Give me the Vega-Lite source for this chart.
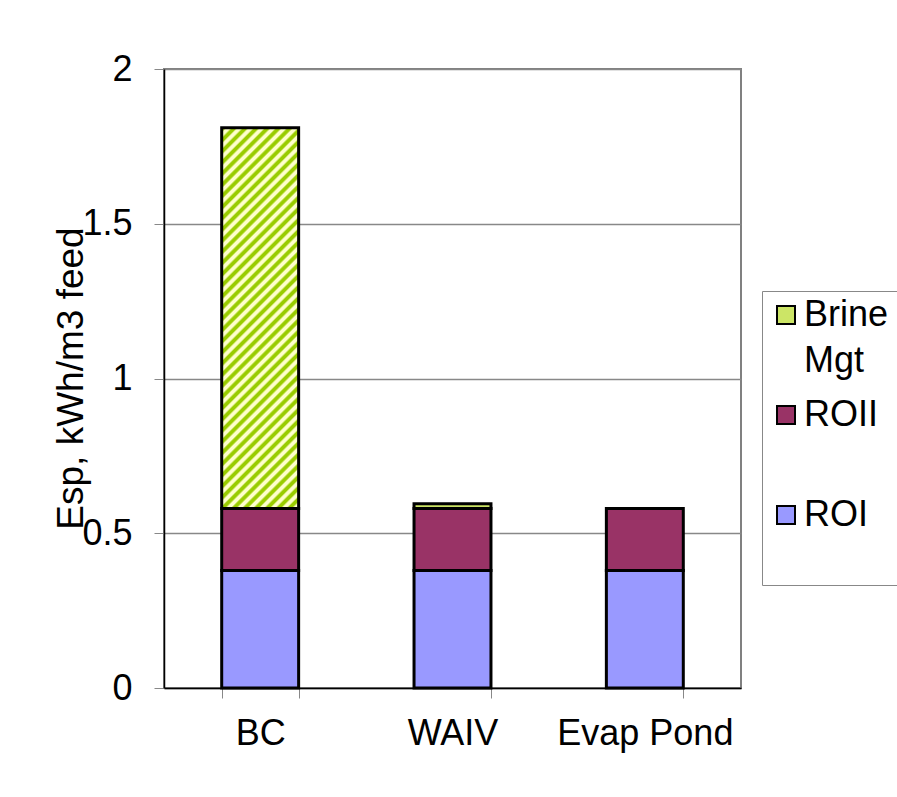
{
  "$schema": "https://vega.github.io/schema/vega-lite/v6.json",
  "width": 577,
  "height": 619,
  "autosize": {"type": "none"},
  "padding": {"left": 164, "top": 69, "right": 156, "bottom": 109},
  "background": "white",
  "config": {
    "font": "Liberation Sans",
    "view": {"stroke": "#808080", "strokeWidth": 2},
    "style": {"guide-label": {"lineHeight": 46}}
  },
  "data": {
    "values": [
      {"plant": "BC", "series": "ROI", "ord": 1, "value": 0.38},
      {"plant": "BC", "series": "ROII", "ord": 2, "value": 0.2},
      {"plant": "BC", "series": "Brine Mgt", "ord": 3, "value": 1.23},
      {"plant": "WAIV", "series": "ROI", "ord": 1, "value": 0.38},
      {"plant": "WAIV", "series": "ROII", "ord": 2, "value": 0.2},
      {"plant": "WAIV", "series": "Brine Mgt", "ord": 3, "value": 0.015},
      {"plant": "Evap Pond", "series": "ROI", "ord": 1, "value": 0.38},
      {"plant": "Evap Pond", "series": "ROII", "ord": 2, "value": 0.2},
      {"plant": "Evap Pond", "series": "Brine Mgt", "ord": 3, "value": 0}
    ]
  },
  "mark": {"type": "bar", "stroke": "black", "strokeWidth": 3},
  "encoding": {
    "x": {
      "field": "plant",
      "type": "nominal",
      "sort": ["BC", "WAIV", "Evap Pond"],
      "scale": {"paddingInner": 0.6, "paddingOuter": 0.3},
      "axis": {
        "title": null,
        "labelAngle": 0,
        "labelFontSize": 36,
        "labelColor": "black",
        "labelPadding": 18,
        "domainColor": "black",
        "domainWidth": 1.5,
        "tickColor": "#888888",
        "tickSize": 10,
        "tickWidth": 1,
        "tickBand": "extent",
        "grid": false
      }
    },
    "y": {
      "field": "value",
      "type": "quantitative",
      "stack": "zero",
      "scale": {"domain": [0, 2], "nice": false},
      "axis": {
        "values": [0, 0.5, 1, 1.5, 2],
        "format": "~g",
        "title": "Esp, kWh/m3 feed",
        "titleFontSize": 37,
        "titleFontWeight": "normal",
        "titleColor": "black",
        "titleX": -82,
        "titleY": 309,
        "titleAngle": -90,
        "titleAlign": "center",
        "titleBaseline": "alphabetic",
        "labelFontSize": 36,
        "labelColor": "black",
        "labelPadding": 22,
        "labelFlush": false,
        "domainColor": "black",
        "domainWidth": 1.5,
        "tickColor": "#888888",
        "tickSize": 10,
        "tickWidth": 1,
        "gridColor": "#888888",
        "gridWidth": 1.5
      }
    },
    "color": {
      "condition": {
        "test": "datum.series === 'Brine Mgt' && datum.plant === 'BC'",
        "value": {
          "gradient": "linear",
          "x1": 0, "y1": 0, "x2": 0.2341, "y2": 1.1552,
          "stops": [
            {"offset": 0, "color": "#99cc00"}, {"offset": 0.00732, "color": "#99cc00"}, {"offset": 0.0122, "color": "#ffffcc"}, {"offset": 0.01951, "color": "#ffffcc"},
            {"offset": 0.02439, "color": "#99cc00"}, {"offset": 0.03171, "color": "#99cc00"}, {"offset": 0.03659, "color": "#ffffcc"}, {"offset": 0.0439, "color": "#ffffcc"},
            {"offset": 0.04878, "color": "#99cc00"}, {"offset": 0.0561, "color": "#99cc00"}, {"offset": 0.06098, "color": "#ffffcc"}, {"offset": 0.06829, "color": "#ffffcc"},
            {"offset": 0.07317, "color": "#99cc00"}, {"offset": 0.08049, "color": "#99cc00"}, {"offset": 0.08537, "color": "#ffffcc"}, {"offset": 0.09268, "color": "#ffffcc"},
            {"offset": 0.09756, "color": "#99cc00"}, {"offset": 0.10488, "color": "#99cc00"}, {"offset": 0.10976, "color": "#ffffcc"}, {"offset": 0.11707, "color": "#ffffcc"},
            {"offset": 0.12195, "color": "#99cc00"}, {"offset": 0.12927, "color": "#99cc00"}, {"offset": 0.13415, "color": "#ffffcc"}, {"offset": 0.14146, "color": "#ffffcc"},
            {"offset": 0.14634, "color": "#99cc00"}, {"offset": 0.15366, "color": "#99cc00"}, {"offset": 0.15854, "color": "#ffffcc"}, {"offset": 0.16585, "color": "#ffffcc"},
            {"offset": 0.17073, "color": "#99cc00"}, {"offset": 0.17805, "color": "#99cc00"}, {"offset": 0.18293, "color": "#ffffcc"}, {"offset": 0.19024, "color": "#ffffcc"},
            {"offset": 0.19512, "color": "#99cc00"}, {"offset": 0.20244, "color": "#99cc00"}, {"offset": 0.20732, "color": "#ffffcc"}, {"offset": 0.21463, "color": "#ffffcc"},
            {"offset": 0.21951, "color": "#99cc00"}, {"offset": 0.22683, "color": "#99cc00"}, {"offset": 0.23171, "color": "#ffffcc"}, {"offset": 0.23902, "color": "#ffffcc"},
            {"offset": 0.2439, "color": "#99cc00"}, {"offset": 0.25122, "color": "#99cc00"}, {"offset": 0.2561, "color": "#ffffcc"}, {"offset": 0.26341, "color": "#ffffcc"},
            {"offset": 0.26829, "color": "#99cc00"}, {"offset": 0.27561, "color": "#99cc00"}, {"offset": 0.28049, "color": "#ffffcc"}, {"offset": 0.2878, "color": "#ffffcc"},
            {"offset": 0.29268, "color": "#99cc00"}, {"offset": 0.3, "color": "#99cc00"}, {"offset": 0.30488, "color": "#ffffcc"}, {"offset": 0.31219, "color": "#ffffcc"},
            {"offset": 0.31707, "color": "#99cc00"}, {"offset": 0.32439, "color": "#99cc00"}, {"offset": 0.32927, "color": "#ffffcc"}, {"offset": 0.33658, "color": "#ffffcc"},
            {"offset": 0.34146, "color": "#99cc00"}, {"offset": 0.34878, "color": "#99cc00"}, {"offset": 0.35366, "color": "#ffffcc"}, {"offset": 0.36097, "color": "#ffffcc"},
            {"offset": 0.36585, "color": "#99cc00"}, {"offset": 0.37317, "color": "#99cc00"}, {"offset": 0.37805, "color": "#ffffcc"}, {"offset": 0.38536, "color": "#ffffcc"},
            {"offset": 0.39024, "color": "#99cc00"}, {"offset": 0.39756, "color": "#99cc00"}, {"offset": 0.40244, "color": "#ffffcc"}, {"offset": 0.40975, "color": "#ffffcc"},
            {"offset": 0.41463, "color": "#99cc00"}, {"offset": 0.42195, "color": "#99cc00"}, {"offset": 0.42683, "color": "#ffffcc"}, {"offset": 0.43414, "color": "#ffffcc"},
            {"offset": 0.43902, "color": "#99cc00"}, {"offset": 0.44634, "color": "#99cc00"}, {"offset": 0.45122, "color": "#ffffcc"}, {"offset": 0.45853, "color": "#ffffcc"},
            {"offset": 0.46341, "color": "#99cc00"}, {"offset": 0.47073, "color": "#99cc00"}, {"offset": 0.47561, "color": "#ffffcc"}, {"offset": 0.48292, "color": "#ffffcc"},
            {"offset": 0.4878, "color": "#99cc00"}, {"offset": 0.49512, "color": "#99cc00"}, {"offset": 0.5, "color": "#ffffcc"}, {"offset": 0.50731, "color": "#ffffcc"},
            {"offset": 0.5122, "color": "#99cc00"}, {"offset": 0.51952, "color": "#99cc00"}, {"offset": 0.5244, "color": "#ffffcc"}, {"offset": 0.53171, "color": "#ffffcc"},
            {"offset": 0.53659, "color": "#99cc00"}, {"offset": 0.54391, "color": "#99cc00"}, {"offset": 0.54879, "color": "#ffffcc"}, {"offset": 0.5561, "color": "#ffffcc"},
            {"offset": 0.56098, "color": "#99cc00"}, {"offset": 0.5683, "color": "#99cc00"}, {"offset": 0.57318, "color": "#ffffcc"}, {"offset": 0.58049, "color": "#ffffcc"},
            {"offset": 0.58537, "color": "#99cc00"}, {"offset": 0.59269, "color": "#99cc00"}, {"offset": 0.59757, "color": "#ffffcc"}, {"offset": 0.60488, "color": "#ffffcc"},
            {"offset": 0.60976, "color": "#99cc00"}, {"offset": 0.61708, "color": "#99cc00"}, {"offset": 0.62196, "color": "#ffffcc"}, {"offset": 0.62927, "color": "#ffffcc"},
            {"offset": 0.63415, "color": "#99cc00"}, {"offset": 0.64147, "color": "#99cc00"}, {"offset": 0.64635, "color": "#ffffcc"}, {"offset": 0.65366, "color": "#ffffcc"},
            {"offset": 0.65854, "color": "#99cc00"}, {"offset": 0.66586, "color": "#99cc00"}, {"offset": 0.67074, "color": "#ffffcc"}, {"offset": 0.67805, "color": "#ffffcc"},
            {"offset": 0.68293, "color": "#99cc00"}, {"offset": 0.69025, "color": "#99cc00"}, {"offset": 0.69513, "color": "#ffffcc"}, {"offset": 0.70244, "color": "#ffffcc"},
            {"offset": 0.70732, "color": "#99cc00"}, {"offset": 0.71464, "color": "#99cc00"}, {"offset": 0.71952, "color": "#ffffcc"}, {"offset": 0.72683, "color": "#ffffcc"},
            {"offset": 0.73171, "color": "#99cc00"}, {"offset": 0.73903, "color": "#99cc00"}, {"offset": 0.74391, "color": "#ffffcc"}, {"offset": 0.75122, "color": "#ffffcc"},
            {"offset": 0.7561, "color": "#99cc00"}, {"offset": 0.76342, "color": "#99cc00"}, {"offset": 0.7683, "color": "#ffffcc"}, {"offset": 0.77561, "color": "#ffffcc"},
            {"offset": 0.78049, "color": "#99cc00"}, {"offset": 0.78781, "color": "#99cc00"}, {"offset": 0.79269, "color": "#ffffcc"}, {"offset": 0.8, "color": "#ffffcc"},
            {"offset": 0.80488, "color": "#99cc00"}, {"offset": 0.8122, "color": "#99cc00"}, {"offset": 0.81708, "color": "#ffffcc"}, {"offset": 0.82439, "color": "#ffffcc"},
            {"offset": 0.82927, "color": "#99cc00"}, {"offset": 0.83659, "color": "#99cc00"}, {"offset": 0.84147, "color": "#ffffcc"}, {"offset": 0.84878, "color": "#ffffcc"},
            {"offset": 0.85366, "color": "#99cc00"}, {"offset": 0.86098, "color": "#99cc00"}, {"offset": 0.86586, "color": "#ffffcc"}, {"offset": 0.87317, "color": "#ffffcc"},
            {"offset": 0.87805, "color": "#99cc00"}, {"offset": 0.88537, "color": "#99cc00"}, {"offset": 0.89025, "color": "#ffffcc"}, {"offset": 0.89756, "color": "#ffffcc"},
            {"offset": 0.90244, "color": "#99cc00"}, {"offset": 0.90976, "color": "#99cc00"}, {"offset": 0.91464, "color": "#ffffcc"}, {"offset": 0.92195, "color": "#ffffcc"},
            {"offset": 0.92683, "color": "#99cc00"}, {"offset": 0.93415, "color": "#99cc00"}, {"offset": 0.93903, "color": "#ffffcc"}, {"offset": 0.94634, "color": "#ffffcc"},
            {"offset": 0.95122, "color": "#99cc00"}, {"offset": 0.95854, "color": "#99cc00"}, {"offset": 0.96342, "color": "#ffffcc"}, {"offset": 0.97073, "color": "#ffffcc"},
            {"offset": 0.97561, "color": "#99cc00"}, {"offset": 0.98293, "color": "#99cc00"}, {"offset": 0.98781, "color": "#ffffcc"}, {"offset": 0.99512, "color": "#ffffcc"},
            {"offset": 1, "color": "#99cc00"}
          ]
        }
      },
      "field": "series",
      "type": "nominal",
      "scale": {
        "domain": ["Brine Mgt", "ROII", "ROI"],
        "range": ["#cce566", "#993366", "#9999ff"]
      },
      "legend": {
        "orient": "none",
        "legendX": 598,
        "legendY": 222,
        "title": null,
        "strokeColor": "#888888",
        "fillColor": "white",
        "padding": 6,
        "symbolType": "square",
        "symbolSize": 324,
        "symbolStrokeColor": "black",
        "symbolStrokeWidth": 2,
        "symbolOpacity": 1,
        "labelFontSize": 36,
        "labelColor": "black",
        "labelOffset": 0,
        "labelExpr": "datum.label === 'Brine Mgt' ? ['Brine\u2800\u2800', 'Mgt'] : [datum.label, '']",
        "rowPadding": 18
      }
    },
    "order": {"field": "ord", "type": "quantitative"}
  }
}
